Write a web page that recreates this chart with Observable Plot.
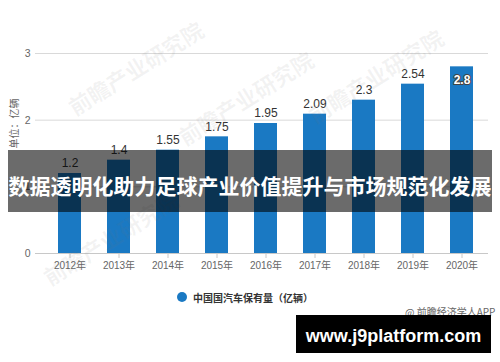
<!DOCTYPE html>
<html>
<head>
<meta charset="utf-8">
<script src="https://cdn.jsdelivr.net/npm/d3@7"></script>
<script src="https://cdn.jsdelivr.net/npm/@observablehq/plot@0.6"></script>
<style>
  body { margin: 0; background: #fff; }
  #wrap { position: relative; width: 500px; height: 362px; overflow: hidden; font-family: "Liberation Sans", "Noto Sans CJK SC", sans-serif; }
  #chart svg { display: block; }
  .abs { position: absolute; white-space: nowrap; }
  .wm { position: absolute; white-space: nowrap; color: rgba(120,120,120,0.09); font: bold 22px "Noto Sans CJK SC", sans-serif; transform: rotate(-32deg); transform-origin: left center; }
</style>
</head>
<body>
<div id="wrap">
  <div id="chart"></div>
</div>
<script>
const years = ["2012", "2013", "2014", "2015", "2016", "2017", "2018", "2019", "2020"];
const values = [1.2, 1.4, 1.55, 1.75, 1.95, 2.09, 2.3, 2.54, 2.8];
const yTicks = [0, 1, 2, 3];
const yearSuffix = "年";
const yLabel = "单位：亿辆";
const seriesName = "中国国汽车保有量（亿辆）";
const sourceText = "@ 前瞻经济学人APP";
const bannerText = "数据透明化助力足球产业价值提升与市场规范化发展";
const siteText = "www.j9platform.com";
const watermarkText = "前瞻产业研究院";

const data = years.map((y, i) => ({year: y, value: values[i], label: String(values[i])}));
const last = data.length - 1;
const barColor = "#1a79c3";

const chart = Plot.plot({
  width: 500,
  height: 362,
  marginTop: 53,
  marginBottom: 109,
  marginLeft: 35,
  marginRight: 12,
  style: {fontFamily: "'Liberation Sans', 'Noto Sans CJK SC', sans-serif", background: "transparent"},
  x: {type: "band", domain: years, paddingInner: 0.54, paddingOuter: 0.337, align: 0.6},
  y: {domain: [0, 3]},
  marks: [
    Plot.gridY(yTicks, {stroke: "#d9d9d9", strokeOpacity: 1}),
    Plot.barY(data, {x: "year", y: "value", fill: barColor}),
    Plot.ruleY([0], {stroke: "#c8c8c8"}),
    Plot.axisX({tickFormat: d => d + yearSuffix, tickSize: 5, stroke: "#c8c8c8", tickPadding: 3, fontSize: 10, fill: "#666", label: null}),
    Plot.axisY({ticks: yTicks, tickFormat: d => String(d), tickSize: 0, tickPadding: 5, fontSize: 10.5, fill: "#666", label: null}),
    Plot.text([yLabel], {text: d => d, frameAnchor: "left", dx: -21, dy: -5, rotate: -90, fontSize: 10, fill: "#666"}),
    Plot.text(data.filter((d, i) => i < last), {x: "year", y: "value", text: "label", dy: -10, fontSize: 12, fill: "#333", lineAnchor: "middle"}),
    Plot.text(data.filter((d, i) => i === last), {x: "year", y: "value", text: "label", dy: 13, fontSize: 12, fontWeight: "bold", fill: "#fff", stroke: "#444", strokeWidth: 2, paintOrder: "stroke", lineAnchor: "middle"})
  ]
});
document.getElementById("chart").appendChild(chart);

const wrap = document.getElementById("wrap");
function add(html, css, cls) {
  const el = document.createElement("div");
  el.className = cls || "abs";
  el.innerHTML = html;
  Object.assign(el.style, css);
  wrap.appendChild(el);
  return el;
}
// watermarks (faint)
add(watermarkText, {left: "70px", top: "92px"}, "wm");
add(watermarkText, {left: "180px", top: "122px"}, "wm");
add(watermarkText, {left: "310px", top: "100px"}, "wm");
add(watermarkText, {left: "45px", top: "262px"}, "wm");

// legend
add(`<span style="display:inline-block;width:10px;height:10px;border-radius:50%;background:${barColor};vertical-align:middle;margin-right:6px;position:relative;top:-1px"></span><span style="vertical-align:middle">${seriesName}</span>`,
  {left: "177px", top: "289px", font: "bold 10px 'Noto Sans CJK SC', sans-serif", color: "#333", lineHeight: "16px"});
// source
add(sourceText, {left: "405px", top: "305px", font: "10px 'Noto Sans CJK SC', sans-serif", color: "#666", lineHeight: "14px"});
// banner
add(bannerText, {left: "8px", top: "150px", width: "484px", height: "62px", background: "rgba(0,0,0,0.58)", color: "#fff",
  font: "bold 21px 'Noto Sans CJK SC', sans-serif", lineHeight: "70px", textAlign: "center", letterSpacing: "0px"});
// site box
add(siteText, {left: "296px", top: "315px", width: "195px", height: "38px", background: "#000", color: "#fff",
  font: "bold 18px 'Liberation Sans', sans-serif", lineHeight: "42px", textAlign: "center"});
</script>
</body>
</html>
